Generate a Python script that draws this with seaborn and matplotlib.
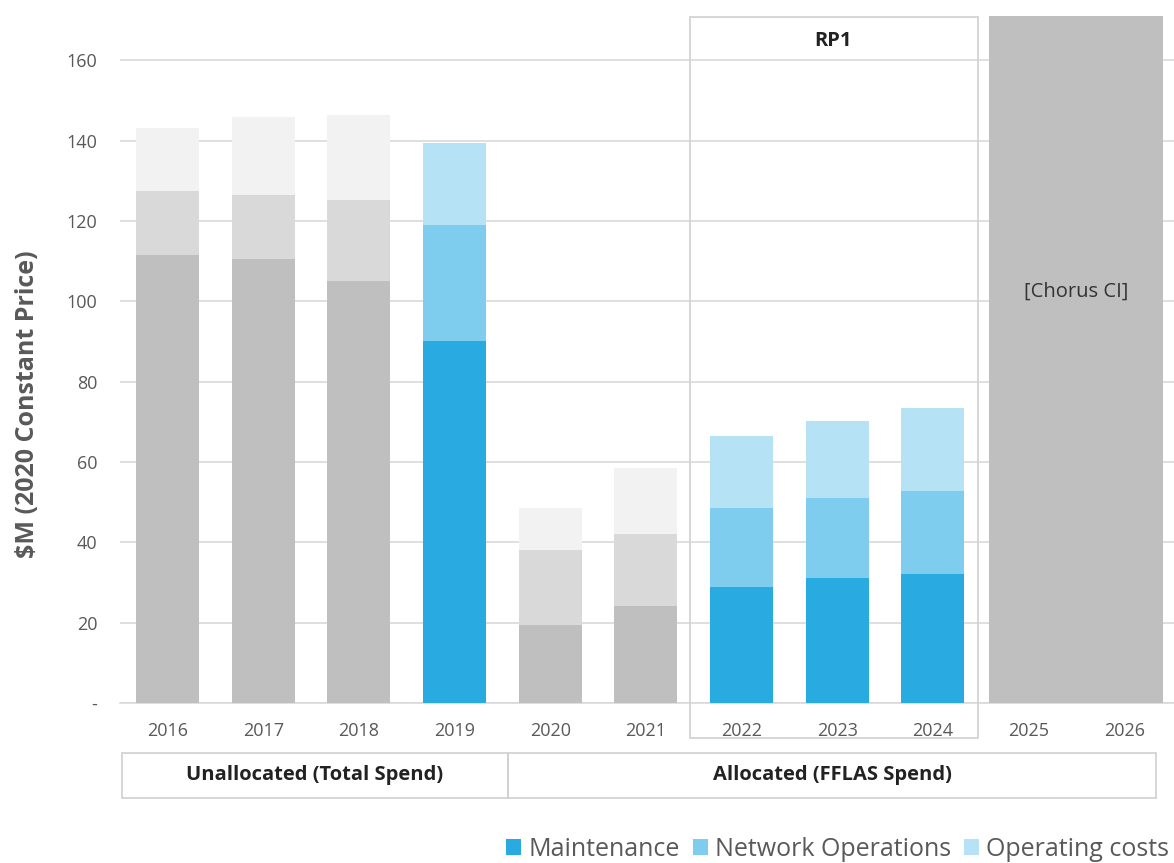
import matplotlib
matplotlib.use("Agg")
import matplotlib.pyplot as plt
from matplotlib.patches import Rectangle, Patch
import seaborn as sns
import pandas as pd

# data ($M, 2020 constant price)
years = ["2016", "2017", "2018", "2019", "2020", "2021", "2022", "2023", "2024", "2025", "2026"]
maintenance = [111.5, 110.6, 105.1, 90.2, 19.4, 24.1, 28.9, 31.1, 32.0, 0, 0]
network_ops = [16.0, 15.9, 20.1, 28.8, 18.6, 18.0, 19.6, 19.9, 20.7, 0, 0]
operating_costs = [15.6, 19.3, 21.2, 20.4, 10.5, 16.4, 17.9, 19.3, 20.8, 0, 0]
allocated_years = ["2019", "2022", "2023", "2024"]
chorus_ci_top = 171
chorus_ci_label = "[Chorus CI]"
group_labels = ["Unallocated (Total Spend)", "Allocated (FFLAS Spend)"]
period_label = "RP1"
series_names = ["Maintenance", "Network Operations", "Operating costs"]

blue = ["#29ABE2", "#7FCDEE", "#B5E2F5"]
grey = ["#BFBFBF", "#D9D9D9", "#F2F2F2"]

sns.set_style("white")
plt.rcParams["font.family"] = ["Open Sans", "DejaVu Sans"]

df = pd.DataFrame({"year": years, "m": maintenance, "n": network_ops, "o": operating_costs})
df["l1"] = df["m"]
df["l2"] = df["m"] + df["n"]
df["l3"] = df["l2"] + df["o"]

fig = plt.figure(figsize=(11.74, 8.63), dpi=100)
ax = fig.add_axes([0.102, 0.1854, 0.898, 0.796])

# stacked bars: draw cumulative totals from top layer down
for level, col in [(2, "l3"), (1, "l2"), (0, "l1")]:
    pal = {y: (blue[level] if y in allocated_years else grey[level]) for y in years}
    sns.barplot(data=df, x="year", y=col, hue="year", palette=pal, order=years,
                legend=False, width=0.66, saturation=1, linewidth=0, ax=ax, zorder=3)

# Chorus CI placeholder block spanning 2025-2026
ax.bar(9.5, chorus_ci_top, width=1.82, color="#BFBFBF", linewidth=0, zorder=3)
ax.text(9.5, 102.5, chorus_ci_label, ha="center", va="center", fontsize=14.5,
        color="#333333", zorder=4)

ax.set_xlim(-0.5, 10.52)
ax.set_ylim(0, chorus_ci_top)
ax.set_yticks([0, 20, 40, 60, 80, 100, 120, 140, 160])
ax.set_yticklabels(["-", "20", "40", "60", "80", "100", "120", "140", "160"])
ax.yaxis.grid(True, color="#D9D9D9", linewidth=1.2, zorder=0)
ax.set_axisbelow(True)
for s in ["top", "right", "left"]:
    ax.spines[s].set_visible(False)
ax.spines["bottom"].set_color("#D9D9D9")
ax.spines["bottom"].set_linewidth(1.2)
ax.tick_params(axis="both", length=0, labelsize=13, colors="#595959")
ax.tick_params(axis="x", pad=14)
ax.tick_params(axis="y", pad=16)
ax.set_xlabel("")
ax.set_ylabel("")
fig.text(28 / 1174, 1 - 404 / 863, "$M (2020 Constant Price)", rotation=90,
         ha="center", va="center", fontsize=18, fontweight="bold", color="#595959")

tr = ax.get_xaxis_transform()
# RP1 box
ax.add_patch(Rectangle((5.46, -0.051), 3.01, 1.05, transform=tr, fill=False,
                       edgecolor="#D0D0D0", linewidth=1.2, clip_on=False, zorder=5))
ax.text(6.96, 0.963, period_label, transform=tr, ha="center", va="center",
        fontsize=14.5, fontweight="bold", color="#222222")

# group label boxes under the axis
for x0, x1, lab in [(-0.48, 3.56, group_labels[0]), (3.56, 10.33, group_labels[1])]:
    ax.add_patch(Rectangle((x0, -0.138), x1 - x0, 0.065, transform=tr, fill=False,
                           edgecolor="#D0D0D0", linewidth=1.2, clip_on=False))
    ax.text((x0 + x1) / 2, -0.105, lab, transform=tr, ha="center", va="center",
            fontsize=14.5, fontweight="bold", color="#222222")

handles = [Patch(facecolor=c, edgecolor="none") for c in blue]
fig.legend(handles, series_names, loc="center right", bbox_to_anchor=(0.996, 0.016),
           ncol=3, frameon=False, fontsize=18, handlelength=0.6, handleheight=0.6,
           handletextpad=0.3, columnspacing=0.5, labelcolor="#595959",
           borderpad=0, borderaxespad=0)

fig.savefig("out.png", dpi=100)
